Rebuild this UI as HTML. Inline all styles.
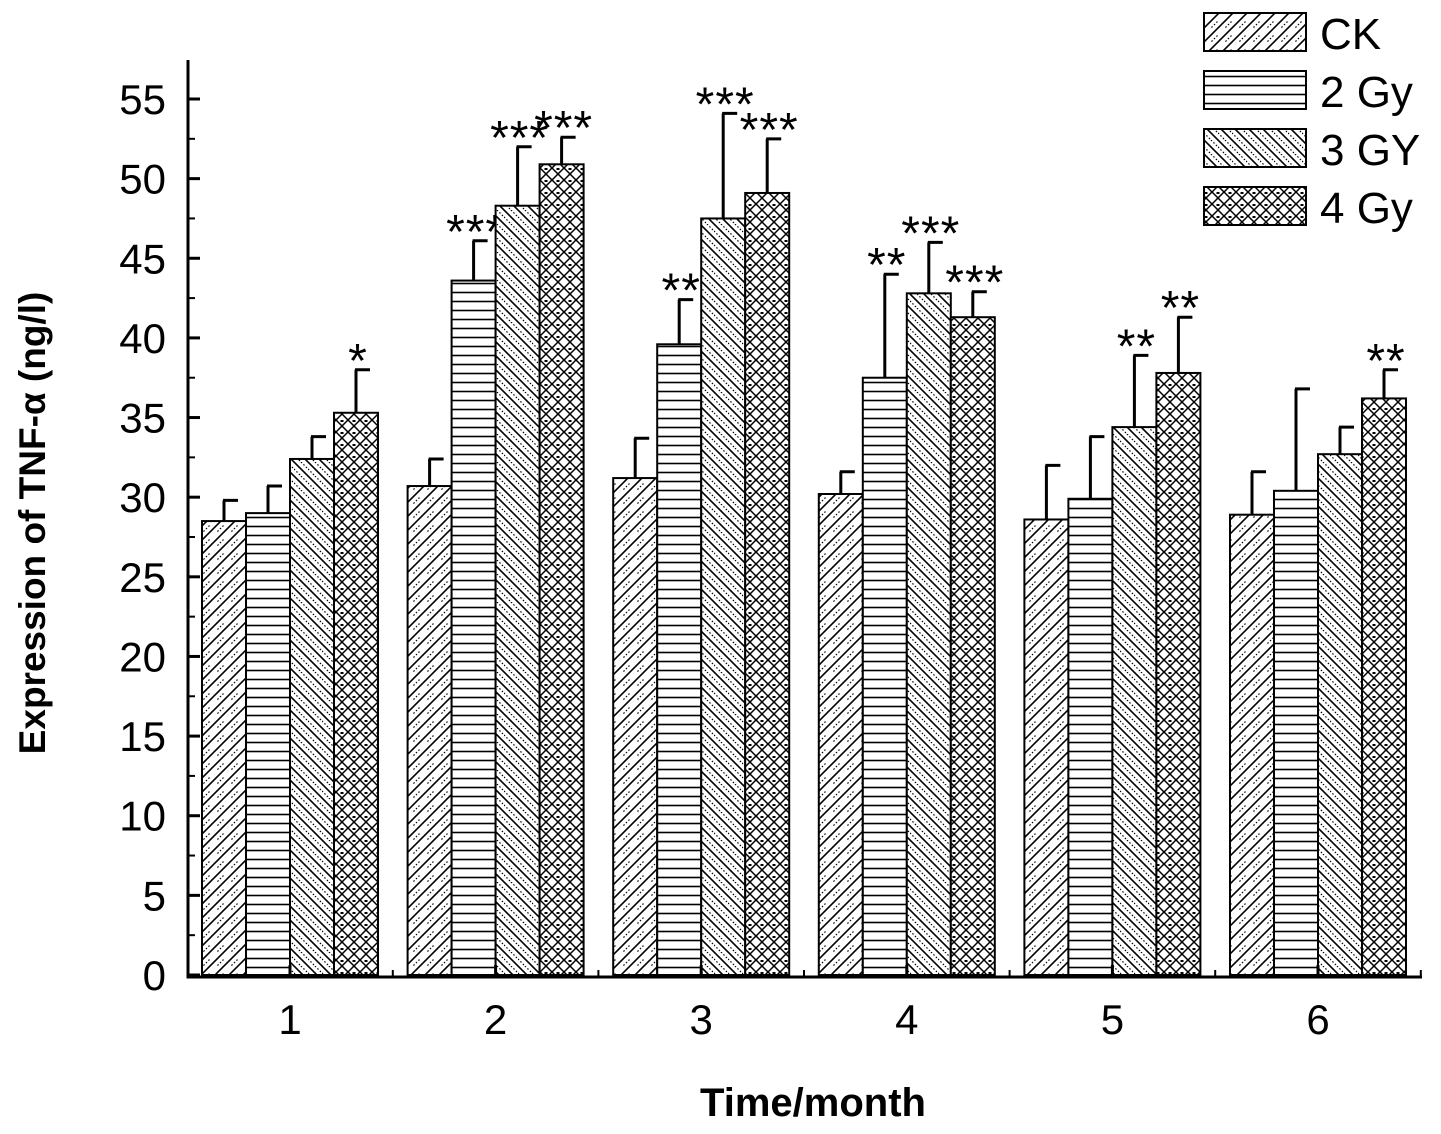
<!DOCTYPE html>
<html><head><meta charset="utf-8"><style>
body{margin:0;background:#fff}
svg text{font-family:"Liberation Sans",Arial,sans-serif}
</style></head><body>
<svg id="chart" width="1441" height="1129" xmlns="http://www.w3.org/2000/svg">
<defs>
<pattern id="pCK" patternUnits="userSpaceOnUse" width="14" height="14">
<rect width="14" height="14" fill="#fff"/><path d="M-2,16 L16,-2 M-9,9 L9,-9 M5,23 L23,5" stroke="#000" stroke-width="1.6"/>
<path d="M5,16 L16,5" stroke="#000" stroke-width="1.2" stroke-dasharray="1.5,2"/></pattern>
<pattern id="p2" patternUnits="userSpaceOnUse" width="10" height="9">
<rect width="10" height="9" fill="#fff"/><path d="M0,4.5 L10,4.5" stroke="#000" stroke-width="1.6"/></pattern>
<pattern id="p3" patternUnits="userSpaceOnUse" width="14" height="14">
<rect width="14" height="14" fill="#fff"/><path d="M-2,-2 L16,16 M-9,5 L9,23 M5,-9 L23,9" stroke="#000" stroke-width="1.6"/>
<path d="M-5,2 L12,19 M2,-5 L19,12" stroke="#000" stroke-width="1.2" stroke-dasharray="1.5,2"/></pattern>
<pattern id="p4" patternUnits="userSpaceOnUse" width="12" height="12">
<rect width="12" height="12" fill="#fff"/><path d="M0,0 L12,12 M12,0 L0,12" stroke="#000" stroke-width="1.5"/>
<rect x="4.5" y="-1" width="3" height="3" fill="#000"/></pattern>
</defs>
<g id="plot"></g>
<text transform="translate(45,523) rotate(-90)" text-anchor="middle" style="font-size:37px;font-weight:bold">Expression of TNF-α (ng/l)</text>
<text x="813" y="1116" text-anchor="middle" style="font-size:40px;font-weight:bold">Time/month</text>
<g id="legend"></g>
</svg>
<script>
const categories=["1","2","3","4","5","6"];
const seriesNames=["CK","2 Gy","3 GY","4 Gy"];
const ck=[28.5,30.7,31.2,30.2,28.6,28.9];
const gy2=[29.0,43.6,39.6,37.5,29.9,30.4];
const gy3=[32.4,48.3,47.5,42.8,34.4,32.7];
const gy4=[35.3,50.9,49.1,41.3,37.8,36.2];
const ckErr=[1.3,1.7,2.5,1.4,3.4,2.7];
const gy2Err=[1.7,2.5,2.8,6.5,3.9,6.4];
const gy3Err=[1.4,3.7,6.6,3.2,4.5,1.7];
const gy4Err=[2.7,1.7,3.4,1.6,3.5,1.8];
const ckSig=["","","","","",""];
const gy2Sig=["","***","**","**","",""];
const gy3Sig=["","***","***","***","**",""];
const gy4Sig=["*","***","***","***","**","**"];
const yTicks=[0,5,10,15,20,25,30,35,40,45,50,55];
const values=[ck,gy2,gy3,gy4], errs=[ckErr,gy2Err,gy3Err,gy4Err], sigs=[ckSig,gy2Sig,gy3Sig,gy4Sig];
const fills=["url(#pCK)","url(#p2)","url(#p3)","url(#p4)"];
const NS="http://www.w3.org/2000/svg";
const X0=188,X1=1422,Y0=975,PY=876/55;
const yS=v=>Y0-v*PY;
const xC=i=>290+i*205.6;
const bw=44;
const g=document.getElementById('plot');
function mk(t,a,p){const e=document.createElementNS(NS,t);for(const k in a)e.setAttribute(k,a[k]);(p||g).appendChild(e);return e;}
values.forEach((arr,s)=>{arr.forEach((v,i)=>{
 const x=xC(i)-2*bw+s*bw;
 const r=mk('rect',{x:x,y:yS(v),width:bw,height:Y0-yS(v),fill:fills[s],stroke:'#000','stroke-width':2});
 
 
 const cx=x+bw/2,top=yS(v+errs[s][i]);
 const e=mk('path',{d:`M${cx},${yS(v)} L${cx},${top} M${cx-1},${top} L${cx+14},${top}`,stroke:'#000','stroke-width':3,fill:'none'});
 
 
 if(sigs[s][i]){const t=mk('text',{x:cx+2,y:top+7,'text-anchor':'middle',style:'font-size:48px;letter-spacing:1px'});t.textContent=sigs[s][i];
 
 }
});});
const ax=mk('path',{d:`M${X0},60 L${X0},${Y0+2} L${X1},${Y0+2}`,stroke:'#000','stroke-width':3,fill:'none'});


yTicks.forEach(v=>{
 mk('path',{d:`M${X0},${yS(v)} L${X0+12},${yS(v)}`,stroke:'#000','stroke-width':3});
 if(v<55)mk('path',{d:`M${X0},${yS(v+2.5)} L${X0+7},${yS(v+2.5)}`,stroke:'#000','stroke-width':2});
 const t=mk('text',{x:X0-22,y:yS(v)+15,'text-anchor':'end',style:'font-size:42px'});t.textContent=v;
 
 
});
categories.forEach((c,i)=>{
 mk('path',{d:`M${xC(i)},${Y0+2} L${xC(i)},${Y0-10}`,stroke:'#000','stroke-width':3});
 mk('path',{d:`M${xC(i)+102.8},${Y0+2} L${xC(i)+102.8},${Y0-5}`,stroke:'#000','stroke-width':2});
 const t=mk('text',{x:xC(i),y:1034,'text-anchor':'middle',style:'font-size:42px'});t.textContent=c;
 
 
});
const lg=document.getElementById('legend');
seriesNames.forEach((n,s)=>{
 const y=13+s*58;
 const r=mk('rect',{x:1204,y:y,width:102,height:38,fill:fills[s],stroke:'#000','stroke-width':2},lg);
 
 
 const t=mk('text',{x:1320,y:y+36,style:'font-size:44px'},lg);t.textContent=n;
 
 
});
</script>
</body></html>
